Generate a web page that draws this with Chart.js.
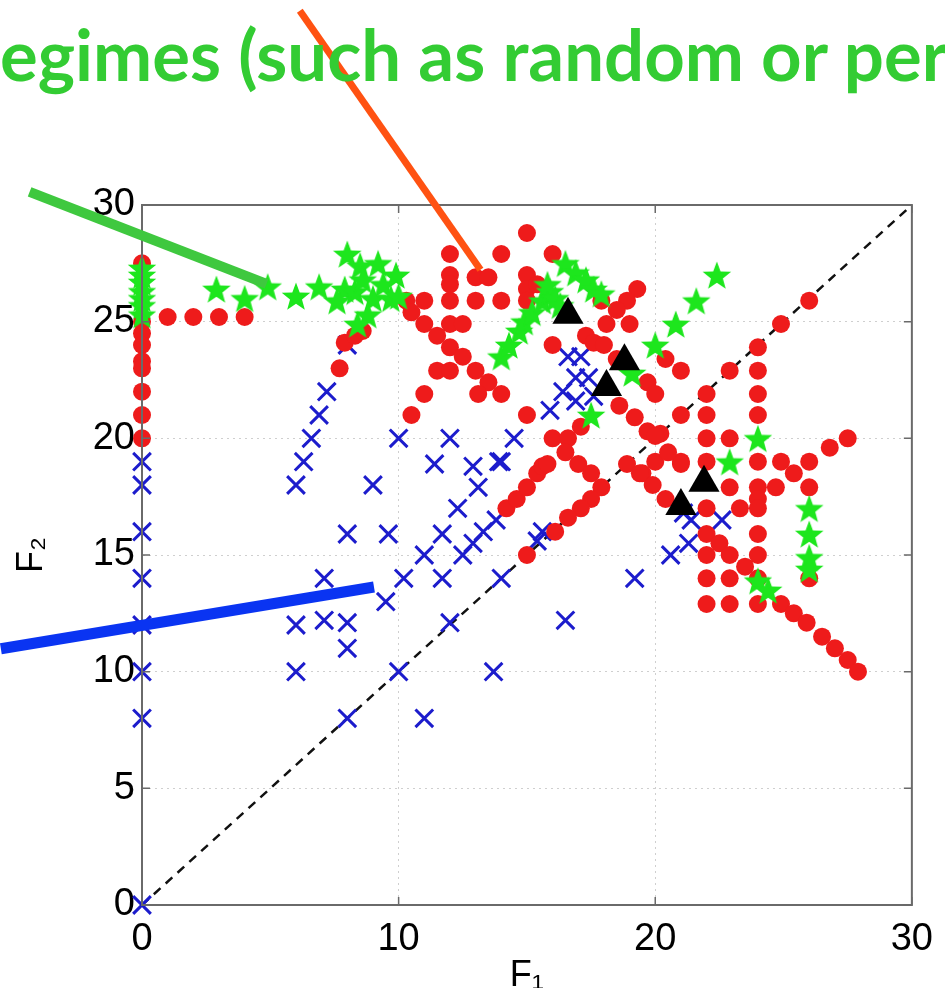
<!DOCTYPE html>
<html>
<head>
<meta charset="utf-8">
<script src="https://cdn.jsdelivr.net/npm/chart.js@4/dist/chart.umd.min.js"></script>
<style>
  html, body { margin: 0; padding: 0; background: #fff; overflow: hidden; }
  #wrap { position: relative; width: 945px; height: 988px; }
  #banner {
    position: absolute; left: 0; top: 19px; white-space: nowrap;
    font: bold 70px Lato, "Open Sans", sans-serif; line-height: 70px;
    color: #33cc33; transform-origin: 0 0;
  }
  canvas { position: absolute; left: 0; top: 0; }
</style>
</head>
<body>
<div id="wrap">
  <canvas id="grafico" width="945" height="988"></canvas>
  <div id="banner"><span id="bannerText">egimes (such as random or per</span></div>
</div>
<script>
// puntos (F1, F2) de cada grupo
const cruces = [
  [0,19],[0,18],[0,16],[0,14],[0,12],[0,10],[0,8],[0,0],
  [6,10],[6,12],[6,18],[6.3,19],[6.6,20],[6.9,21],[7.2,22],[7.1,14],[7.1,12.2],
  [8,12.1],[8,11],[8,8],[8,15.9],[8,24],[9,18],[9.5,13],[9.6,15.9],[10,20],
  [10.2,14],[10,10],[11,8],[11,15],[11.7,14],[11.7,15.9],[12,12.1],[12,20],
  [11.4,18.9],[12.5,15],[12.9,15.5],[13.3,16],[13.8,16.5],[12.3,17],[13.1,17.9],
  [12.9,18.8],[13.9,19],[14,19],[14,14],[13.7,10],[14.5,20],[15.4,15.6],[15.6,16],
  [16.5,12.2],
  [16.6,23.5],[17.1,23.5],[16.9,22.6],[17.4,22.6],[16.4,22],[16.9,21.6],[17.6,21.8],[15.9,21.2],
  [19.2,14],[20.6,15],[21.3,15.5],[21.4,16.5],[22.6,16.5],[21.1,16.8]
];

const circulos = [
  [0,27.5],[0,25],[0,24.5],[0,24],[0,23.3],[0,23],[0,22],[0,21],[0,20],
  [1,25.2],[2,25.2],[3,25.2],[4,25.2],
  [7.9,24.1],[8.3,24.4],[8.6,24.6],[7.7,23],[10.3,25.9],[10.5,25.4],
  [12,27.9],[14,27.9],[12,27],[12,26.6],[13,26.9],[13.5,26.9],[11,25.9],[12,25.9],
  [13,25.9],[14,25.9],[11,24.9],[12,24.9],[12.5,24.9],[11.5,24.4],[12,23.9],[12.5,23.5],
  [11.5,22.9],[12,22.9],[13,22.9],[13.5,22.4],[13.1,21.9],[14,21.9],[11,21.9],[10.5,21],
  [15,28.8],[16,27.9],[15,27],[15,26.4],[15.4,26.6],[15,25.9],[19.3,26.4],[18.9,25.9],
  [18.5,25.5],[17.9,25.9],[18.1,24.9],[19,24.9],[17.3,24.4],[17.6,24.1],[18,24],[16,24],
  [18.5,23.4],[19.7,22.4],[20,21.9],[21,22.9],[20.4,23.4],[21,21],[18.6,21.4],[19.2,20.9],
  [19.7,20.3],[20.2,20.2],[15,21],[16,20],[16.6,20],[17.1,20.5],
  [26,25.9],[24.9,24.9],[24,23.9],[24,22.9],[24,21.9],[24,21],[22.9,22.9],[22,21.9],
  [22,21],[22,20],[22.9,20],[27.5,20],[26.8,19.6],
  [24,19],[24.9,19],[26,19],[25.4,18.5],[22,19],[21,19],[20,19],[18.9,18.9],[20,20.1],
  [20.5,19.4],[19.5,18.5],[19.9,18],[20.4,17.4],[22.9,17.9],[24,17.9],[24.7,17.9],[26,17.9],
  [24,17.4],[22,17],[23.3,17],[24,17],[22,15.9],[22.5,15.5],[22.9,15],[23.5,14.5],[24,15.9],
  [24,15],[22,15],[22,14],[22.9,14],[24,14],[26,14],[22,12.9],[22.9,12.9],[24,12.9],
  [24.9,12.9],[25.4,12.5],[25.9,12.1],[26.5,11.5],[27,11],[27.5,10.5],[27.9,10],
  [14.2,17],[14.6,17.4],[15,17.9],[15.4,18.5],[15.6,18.8],[15.8,18.9],[16.5,19.4],[17,18.9],
  [17.5,18.5],[17.9,17.9],[17.5,17.4],[17.1,17],[16.6,16.6],[16.1,16],[15,15],[19.4,18.5],
  [21,18.9]
];

const estrellas = [
  [0,25.3],[0,25.7],[0,26],[0,26.3],[0,26.7],[0,27],[0,27.3],
  [2.9,26.4],[4,26],[4.9,26.5],[6,26.1],[6.9,26.5],[7.9,26.4],[8,27.9],[8.5,27.4],
  [9.2,27.5],[9.9,27],[8.3,26.3],[8.6,26.8],[9.4,26.6],[9,26],[9.7,26],[10,26.1],
  [8.8,25.3],[8.4,24.9],[7.6,25.9],
  [14,23.5],[14.3,24],[14.7,24.6],[14.9,25],[15.2,25.4],[15.6,25.9],[15.9,26.3],
  [15.8,26.6],[16.1,26],[16.3,25.7],
  [16.5,27.5],[16.9,27.1],[17.3,26.8],[17.6,26.4],[17.9,26.2],
  [22.4,27],[21.6,25.9],[20.8,24.9],[20,24],[19.1,22.8],[17.5,21],
  [24,20],[22.9,19],[26,17],[26,15.9],[26,14.9],[26,14.4],[24,13.9],[24.4,13.5]
];

const triangulos = [[16.6,25.3],[18.8,23.3],[18.1,22.2],[21,17.1],[21.9,18.1]];

const diagonal = [[0,0],[30,30]];

const ticksF1 = [0, 10, 20, 30];
const ticksF2 = [0, 5, 10, 15, 20, 25, 30];

// lineas de llamada (extremos en unidades de los ejes)
const llamadas = [
  { desde: [-4.38, 30.56], hasta: [4.85, 26.62], color: '#3fc83f', ancho: 10 },
  { desde: [6.15, 38.33], hasta: [13.19, 27.22], color: '#ff5212', ancho: 7 },
  { desde: [-5.5, 10.98], hasta: [9.04, 13.63], color: '#0a34f2', ancho: 11 }
];

const aPuntos = arr => arr.map(p => ({ x: p[0], y: p[1] }));

// estrella rellena para los puntos verdes
function hacerEstrella(color, r) {
  const c = document.createElement('canvas');
  c.width = c.height = 2 * r + 2;
  const g = c.getContext('2d');
  g.beginPath();
  for (let i = 0; i < 10; i++) {
    const rad = i % 2 === 0 ? r : r * 0.42;
    const a = -Math.PI / 2 + i * Math.PI / 5;
    const px = r + 1 + rad * Math.cos(a);
    const py = r + 1 + rad * Math.sin(a) + r * 0.1;
    if (i === 0) g.moveTo(px, py); else g.lineTo(px, py);
  }
  g.closePath();
  g.fillStyle = color;
  g.fill();
  return c;
}

const estrellaImg = hacerEstrella('#1de61d', 15);

const pluginExtras = {
  id: 'extras',
  afterDraw(chart) {
    const { ctx, chartArea, scales } = chart;
    // marco superior y derecho
    ctx.save();
    ctx.strokeStyle = '#6a6a6a';
    ctx.lineWidth = 2;
    ctx.strokeRect(chartArea.left, chartArea.top, chartArea.right - chartArea.left, chartArea.bottom - chartArea.top);
    // marcas hacia adentro
    ctx.lineWidth = 1.5;
    ticksF1.forEach(v => {
      const x = scales.x.getPixelForValue(v);
      ctx.beginPath();
      ctx.moveTo(x, chartArea.bottom); ctx.lineTo(x, chartArea.bottom - 8);
      ctx.moveTo(x, chartArea.top); ctx.lineTo(x, chartArea.top + 8);
      ctx.stroke();
    });
    ticksF2.forEach(v => {
      const y = scales.y.getPixelForValue(v);
      ctx.beginPath();
      ctx.moveTo(chartArea.left, y); ctx.lineTo(chartArea.left + 8, y);
      ctx.moveTo(chartArea.right, y); ctx.lineTo(chartArea.right - 8, y);
      ctx.stroke();
    });
    // lineas de llamada
    llamadas.forEach(l => {
      ctx.beginPath();
      ctx.strokeStyle = l.color;
      ctx.lineWidth = l.ancho;
      ctx.lineCap = 'butt';
      ctx.moveTo(scales.x.getPixelForValue(l.desde[0]), scales.y.getPixelForValue(l.desde[1]));
      ctx.lineTo(scales.x.getPixelForValue(l.hasta[0]), scales.y.getPixelForValue(l.hasta[1]));
      ctx.stroke();
    });
    ctx.restore();
  }
};

const fuenteEjes = { family: '"Liberation Sans", Arial, sans-serif', size: 38 };
const fuenteTitulo = { family: '"Liberation Sans", Arial, sans-serif', size: 36 };

const ctx = document.getElementById('grafico').getContext('2d');
const grafico = new Chart(ctx, {
  type: 'scatter',
  data: {
    datasets: [
      {
        label: 'triangulos', data: aPuntos(triangulos), order: 0, clip: false,
        pointStyle: 'triangle', pointRadius: 18, pointHoverRadius: 18,
        backgroundColor: '#000', borderColor: '#000', borderWidth: 0
      },
      {
        label: 'estrellas', data: aPuntos(estrellas), order: 1, clip: false,
        pointStyle: estrellaImg, pointRadius: 15
      },
      {
        label: 'circulos', data: aPuntos(circulos), order: 2, clip: false,
        pointStyle: 'circle', pointRadius: 9, pointHoverRadius: 9,
        backgroundColor: '#ee1b1b', borderColor: '#ee1b1b', borderWidth: 0
      },
      {
        label: 'cruces', data: aPuntos(cruces), order: 3, clip: false,
        pointStyle: 'crossRot', pointRadius: 12.5, pointHoverRadius: 12.5,
        borderColor: '#1c1ccc', borderWidth: 3
      },
      {
        type: 'line', label: 'diagonal', data: aPuntos(diagonal), order: 4,
        borderColor: '#111', borderWidth: 2.5, borderDash: [9, 7],
        pointRadius: 0, fill: false
      }
    ]
  },
  options: {
    responsive: false,
    animation: false,
    events: [],
    layout: { padding: { left: 0, right: 23, top: 205, bottom: 0 } },
    plugins: { legend: { display: false }, tooltip: { enabled: false } },
    scales: {
      x: {
        type: 'linear', min: 0, max: 30,
        afterFit: s => { s.height = 83; },
        afterBuildTicks: s => { s.ticks = ticksF1.map(v => ({ value: v })); },
        ticks: { color: '#000', font: fuenteEjes, padding: 12, maxRotation: 0 },
        grid: { color: '#cfcfcf', drawTicks: false, lineWidth: 1 },
        border: { display: true, color: '#6a6a6a', width: 2, dash: [2, 4] },
        title: {
          display: true, text: 'F₁', color: '#000', font: fuenteTitulo,
          padding: { top: 0, bottom: -10 }
        }
      },
      y: {
        type: 'linear', min: 0, max: 30,
        afterFit: s => { s.width = 142; },
        afterBuildTicks: s => { s.ticks = ticksF2.map(v => ({ value: v })); },
        ticks: { color: '#000', font: fuenteEjes, padding: 7 },
        grid: { color: '#cfcfcf', drawTicks: false, lineWidth: 1 },
        border: { display: true, color: '#6a6a6a', width: 2, dash: [2, 4] },
        title: {
          display: true, text: 'F₂', color: '#000', font: fuenteTitulo,
          padding: { top: 10, bottom: 0 }
        }
      }
    }
  },
  plugins: [pluginExtras]
});

// ajustar el texto verde al ancho de la pagina
const texto = document.getElementById('bannerText');
const ancho = texto.getBoundingClientRect().width;
document.getElementById('banner').style.transform = 'scaleX(' + (948 / ancho) + ')';
</script>
</body>
</html>
